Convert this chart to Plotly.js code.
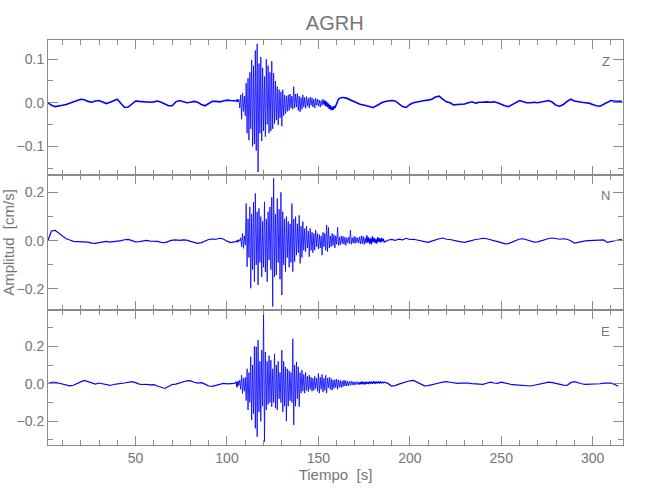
<!DOCTYPE html>
<html>
<head>
<meta charset="utf-8">
<script src="https://cdn.plot.ly/plotly-3.0.1.min.js"></script>
<style>html,body{margin:0;padding:0;background:#fff;}#chart{width:650px;height:500px;}</style>
</head>
<body>
<div id="chart"></div>
<script>
const Q1_T0 = 2, Q_DT = 2;      // quiet part before the arrival
const B_T0 = 105, B_DT = 0.5;   // strong-motion part (105 .. 186 s)
const Q2_T0 = 188;              // quiet part after

const title = "AGRH";
const components = ["Z", "N", "E"];
const xTickVals = [50, 100, 150, 200, 250, 300];

// ---- Z component (cm/s) ----
const zQuiet1 = [0.0,-0.006,-0.009,-0.008,-0.006,-0.004,-0.001,0.002,0.005,0.008,0.007,0.003,0.001,0.004,0.005,0.002,-0.002,0.001,0.005,0.008,-0.002,-0.011,-0.01,-0.002,0.004,0.003,0.002,0.002,0.001,0.002,0.004,0.001,-0.003,-0.007,-0.007,0.002,0.005,0.003,0.0,0.001,0.003,0.001,-0.004,-0.007,-0.002,0.003,0.003,0.002,0.004,0.006,0.005,0.004];
const zBurst = [0.004,0.006,0.002,0.008,-0.012,0.018,-0.038,0.022,-0.02,0.015,
  -0.03,0.045,-0.07,0.056,-0.086,0.07,-0.06,0.098,-0.1,0.085,
  -0.095,0.12,-0.11,0.135,-0.159,0.09,-0.07,0.105,-0.088,0.08,
  -0.065,0.06,-0.078,0.1,-0.05,0.085,-0.07,0.07,-0.065,0.095,
  -0.06,0.068,-0.048,0.05,-0.04,0.037,-0.051,0.03,-0.035,0.025,
  -0.054,0.03,-0.03,0.018,-0.025,0.015,-0.02,0.018,-0.018,0.02,
  -0.012,0.015,-0.015,0.037,-0.012,0.02,-0.01,0.021,-0.018,0.015,
  -0.021,0.012,-0.015,0.018,-0.01,0.012,-0.013,0.014,-0.008,0.01,
  -0.012,0.013,-0.006,0.011,-0.01,0.008,-0.012,0.01,-0.006,0.008,
  -0.008,0.006,-0.01,0.005,-0.006,0.008,-0.004,0.005,-0.008,0.002,
  -0.01,-0.002,-0.014,-0.006,-0.017,-0.01,-0.016,-0.008,-0.012,
  -0.006,-0.001,0.004,0.008,0.01,0.011,0.012,0.012,0.012,0.011,0.011,0.011,0.01,0.009,0.008,0.007,0.006,0.005,0.004,0.003,0.002,0.001,0.0,-0.001,-0.002,-0.003,
  -0.003,-0.004,-0.004,-0.005,-0.005,-0.006,-0.006,-0.007,-0.007,-0.008,-0.008,-0.009,-0.01,-0.011,-0.011,-0.011,-0.01,-0.009,-0.008,-0.007,-0.006,-0.004,-0.003,-0.001,0.0,0.001,0.002,0.002];
const zQuiet2 = [0.004,0.005,0.004,-0.002,-0.009,-0.011,-0.004,0.0,0.002,0.003,0.005,0.006,0.008,0.013,0.015,0.008,0.002,0.0,-0.005,-0.004,-0.003,-0.003,0.0,0.002,-0.001,0.001,0.001,0.002,0.001,0.002,0.0,-0.004,-0.007,-0.009,-0.004,0.002,0.005,0.002,0.0,0.0,0.001,0.0,0.002,0.003,0.005,0.001,-0.006,-0.008,-0.004,0.003,0.008,0.004,0.002,0.001,0.0,-0.001,-0.004,-0.007,-0.008,-0.003,0.002,0.005,0.004,0.004,0.003];

// ---- N component (cm/s) ----
const nQuiet1 = [0.0,0.04,0.043,0.03,0.018,0.008,0.003,-0.003,-0.004,-0.005,-0.003,-0.006,-0.01,-0.011,-0.008,-0.005,-0.003,-0.006,-0.005,-0.003,0.0,0.004,0.005,0.0,-0.005,-0.004,-0.001,0.001,-0.002,-0.001,-0.003,-0.007,-0.008,-0.003,0.002,0.003,0.001,0.003,0.002,-0.003,-0.008,-0.011,-0.008,-0.002,0.005,0.007,0.006,0.01,0.007,-0.002,-0.008,-0.005];
const nBurst = [-0.004,0.002,-0.006,0.005,-0.003,0.012,-0.025,0.03,-0.032,0.02,-0.018,0.154,-0.108,0.09,-0.07,0.14,-0.197,0.11,-0.12,0.16,-0.17,0.196,-0.1,0.12,-0.183,0.134,-0.09,0.1,-0.15,0.08,-0.11,0.161,-0.13,0.09,-0.17,0.12,-0.08,0.14,-0.12,0.18,-0.273,0.258,-0.15,0.11,-0.142,0.175,-0.09,0.13,-0.16,0.2,-0.225,0.12,-0.1,0.09,-0.128,0.1,-0.07,0.08,-0.11,0.07,-0.09,0.154,-0.128,0.09,-0.087,0.1,-0.06,0.07,-0.05,0.105,-0.094,0.06,-0.07,0.079,-0.04,0.05,-0.046,0.06,-0.03,0.04,-0.066,0.051,-0.04,0.035,-0.05,0.03,-0.039,0.044,-0.025,0.03,-0.035,0.025,-0.03,0.02,-0.06,0.035,-0.025,0.03,-0.04,0.065,-0.045,0.055,-0.03,0.02,-0.025,0.03,-0.02,0.025,-0.03,0.02,-0.015,0.055,-0.02,0.015,-0.018,0.02,-0.012,0.018,-0.015,0.015,-0.02,0.012,-0.01,0.015,-0.012,0.044,-0.015,0.012,-0.01,0.018,-0.012,0.015,-0.008,0.012,-0.01,
  0.016,-0.014,0.02,-0.012,0.018,-0.016,0.012,-0.01,0.022,-0.008,0.014,-0.012,0.01,-0.015,0.018,-0.006,0.012,-0.01,0.008,-0.012,0.015,-0.005,0.01,-0.008,0.012,-0.004,0.008,-0.006];
const nQuiet2 = [0.002,0.005,0.001,0.006,0.003,0.01,0.005,0.006,0.003,-0.002,-0.006,-0.007,-0.002,0.004,0.008,0.011,0.006,0.005,0.003,-0.002,-0.005,-0.007,-0.003,0.002,0.005,0.007,0.01,0.008,0.003,0.0,-0.004,-0.008,-0.013,-0.012,-0.005,0.002,0.007,0.008,0.004,-0.002,-0.006,-0.005,0.0,0.005,0.009,0.011,0.009,0.006,0.008,0.006,0.0,-0.01,-0.007,-0.003,-0.001,0.0,0.001,0.0,0.002,0.003,-0.007,-0.004,-0.002,0.002,0.006];

// ---- E component (cm/s) ----
const eQuiet1 = [0.0,0.008,0.008,0.003,0.0,-0.006,-0.011,-0.008,-0.001,0.01,0.018,0.012,0.003,-0.002,0.004,0.0,-0.006,-0.009,-0.004,0.001,0.002,0.004,0.008,0.011,0.006,-0.002,-0.004,-0.003,-0.006,-0.005,-0.012,-0.02,-0.025,-0.015,-0.004,-0.002,0.004,0.01,0.016,0.017,0.008,0.004,0.006,-0.002,-0.012,-0.014,-0.01,-0.002,0.002,-0.001,0.0,0.002];
const eBurst = [0.01,-0.02,0.015,-0.01,0.02,-0.03,0.046,-0.052,0.03,-0.04,0.035,-0.09,0.08,-0.14,0.06,-0.1,0.144,-0.194,0.1,-0.16,0.2,-0.238,0.197,-0.283,0.233,-0.15,0.12,-0.2,0.18,-0.12,0.375,-0.309,0.17,-0.14,0.12,-0.11,0.15,-0.1,0.126,-0.123,0.08,-0.1,0.16,-0.13,0.1,-0.14,0.12,-0.08,0.06,-0.1,0.18,-0.15,0.12,-0.12,0.09,-0.2,0.08,-0.12,0.07,-0.09,0.06,-0.1,0.24,-0.22,0.1,-0.12,0.117,-0.08,0.09,-0.123,0.06,-0.05,0.073,-0.04,0.05,-0.05,0.06,-0.035,0.04,-0.043,0.046,-0.03,0.035,-0.04,0.03,-0.035,0.04,-0.025,0.03,-0.04,0.055,-0.05,0.035,-0.03,0.05,-0.045,0.03,-0.035,0.045,-0.05,0.03,-0.02,0.035,-0.03,0.028,-0.034,0.02,-0.025,0.022,-0.02,0.025,-0.03,0.02,-0.018,0.018,-0.02,0.015,-0.015,0.02,-0.012,0.016,-0.012,0.014,-0.01,0.012,-0.008,0.014,-0.006,0.012,-0.008,0.01,-0.005,0.012,-0.004,0.008,
  -0.004,0.01,-0.003,0.012,-0.002,0.009,-0.004,0.011,0.0,0.01,-0.002,0.012,0.002,0.011,0.0,0.013,0.003,0.01,0.001,0.012,0.004,0.01,0.002,0.011,0.005,0.009,0.004,0.008];
const eQuiet2 = [0.002,-0.012,-0.01,-0.002,0.005,0.01,0.016,0.018,0.008,-0.004,-0.011,-0.01,-0.004,0.0,0.004,0.009,0.011,0.008,0.004,0.002,0.003,0.005,0.004,0.001,0.0,-0.002,-0.003,0.003,0.009,0.004,0.002,0.009,0.003,-0.002,-0.005,-0.006,-0.007,-0.008,-0.011,-0.012,-0.008,-0.004,0.0,0.006,0.009,0.006,0.001,-0.003,-0.007,-0.009,0.006,0.011,0.004,0.0,-0.003,-0.002,-0.001,-0.003,0.0,0.003,0.005,0.004,-0.004,-0.013];

// Strong-motion windows (s), drawn with a finer pen
const zStrong = [106, 153], nStrong = [106, 176], eStrong = [106, 172];

function series(q1, b, q2) {
  const x = [], y = [];
  q1.forEach((v, i) => { x.push(Q1_T0 + i * Q_DT); y.push(v); });
  b.forEach((v, i) => { x.push(B_T0 + i * B_DT); y.push(v); });
  q2.forEach((v, i) => { x.push(Q2_T0 + i * Q_DT); y.push(v); });
  return {x, y};
}
// split one series into before / strong / after pieces that share their joining samples
function split(s, win) {
  const a = {x: [], y: []}, m = {x: [], y: []}, c = {x: [], y: []};
  for (let i = 0; i < s.x.length; i++) {
    const t = s.x[i];
    if (t <= win[0]) { a.x.push(t); a.y.push(s.y[i]); }
    if (t >= win[0] && t <= win[1]) { m.x.push(t); m.y.push(s.y[i]); }
    if (t >= win[1]) { c.x.push(t); c.y.push(s.y[i]); }
  }
  return [a, m, c];
}

const BLUE = "#0000ff";
const GRAY = "#8c8c8c";
const TXT = "#767676";
const FONT = "Liberation Sans Narrow, Liberation Sans, DejaVu Sans, sans-serif";

const data = [];
function addComponent(parts, xa, ya, quietWidth, burstWidth) {
  parts.forEach((p, k) => {
    data.push({x: p.x, y: p.y, xaxis: xa, yaxis: ya, type: "scatter", mode: "lines",
      line: {color: BLUE, width: k === 1 ? burstWidth : quietWidth}, hoverinfo: "skip"});
  });
}
addComponent(split(series(zQuiet1, zBurst, zQuiet2), zStrong), "x", "y", 1.6, 0.8);
addComponent(split(series(nQuiet1, nBurst, nQuiet2), nStrong), "x2", "y2", 1.2, 0.8);
addComponent(split(series(eQuiet1, eBurst, eQuiet2), eStrong), "x3", "y3", 1.2, 0.8);

const XR = [2.1, 316.6];
function xAxis(anchor, labels) {
  return {
    anchor: anchor, range: XR, domain: [0, 1],
    showline: true, linecolor: GRAY, linewidth: 1, mirror: "allticks",
    ticks: "inside", ticklen: 9, tickcolor: GRAY, tickwidth: 1,
    tickmode: "array", tickvals: xTickVals,
    showticklabels: labels, tickfont: {family: FONT, size: 14, color: TXT},
    minor: {dtick: 10, tick0: 0, ticks: "inside", ticklen: 5, tickcolor: GRAY, showgrid: false},
    showgrid: false, zeroline: false
  };
}
function yAxis(anchor, domain, range, dtick, minorDtick) {
  return {
    anchor: anchor, domain: domain, range: range,
    showline: true, linecolor: GRAY, linewidth: 1, mirror: "allticks",
    ticks: "inside", ticklen: 10, tickcolor: GRAY, tickwidth: 1,
    dtick: dtick, tick0: 0, tickformat: ".1f",
    tickfont: {family: FONT, size: 14, color: TXT},
    minor: {dtick: minorDtick, tick0: 0, ticks: "inside", ticklen: 5, tickcolor: GRAY, showgrid: false},
    showgrid: false, zeroline: false
  };
}

const layout = {
  width: 650, height: 500,
  margin: {l: 48, r: 27, t: 40, b: 55},
  paper_bgcolor: "#ffffff", plot_bgcolor: "#ffffff",
  showlegend: false,
  title: {text: title, x: 0.515, xanchor: "center", y: 0.955, yanchor: "middle", font: {family: FONT, size: 20, color: TXT}},
  xaxis: xAxis("y", false),
  xaxis2: xAxis("y2", false),
  xaxis3: Object.assign(xAxis("y3", true), {title: {text: "Tiempo  [s]", font: {family: FONT, size: 15, color: TXT}, standoff: 1}}),
  yaxis: yAxis("x", [2/3, 1], [-0.166, 0.144], 0.1, 0.05),
  yaxis2: Object.assign(yAxis("x2", [1/3, 2/3], [-0.287, 0.272], 0.2, 0.1), {title: {text: "Amplitud  [cm/s]", font: {family: FONT, size: 15, color: TXT}, standoff: 8}}),
  yaxis3: yAxis("x3", [0, 1/3], [-0.327, 0.394], 0.2, 0.1),
  annotations: [
    {text: components[0], xref: "paper", yref: "paper", x: 0.970, y: 0.947, showarrow: false, xanchor: "center", yanchor: "middle", font: {family: FONT, size: 13, color: TXT}},
    {text: components[1], xref: "paper", yref: "paper", x: 0.970, y: 0.615, showarrow: false, xanchor: "center", yanchor: "middle", font: {family: FONT, size: 13, color: TXT}},
    {text: components[2], xref: "paper", yref: "paper", x: 0.970, y: 0.281, showarrow: false, xanchor: "center", yanchor: "middle", font: {family: FONT, size: 13, color: TXT}}
  ]
};

Plotly.newPlot("chart", data, layout, {staticPlot: true, displayModeBar: false});
</script>
</body>
</html>
